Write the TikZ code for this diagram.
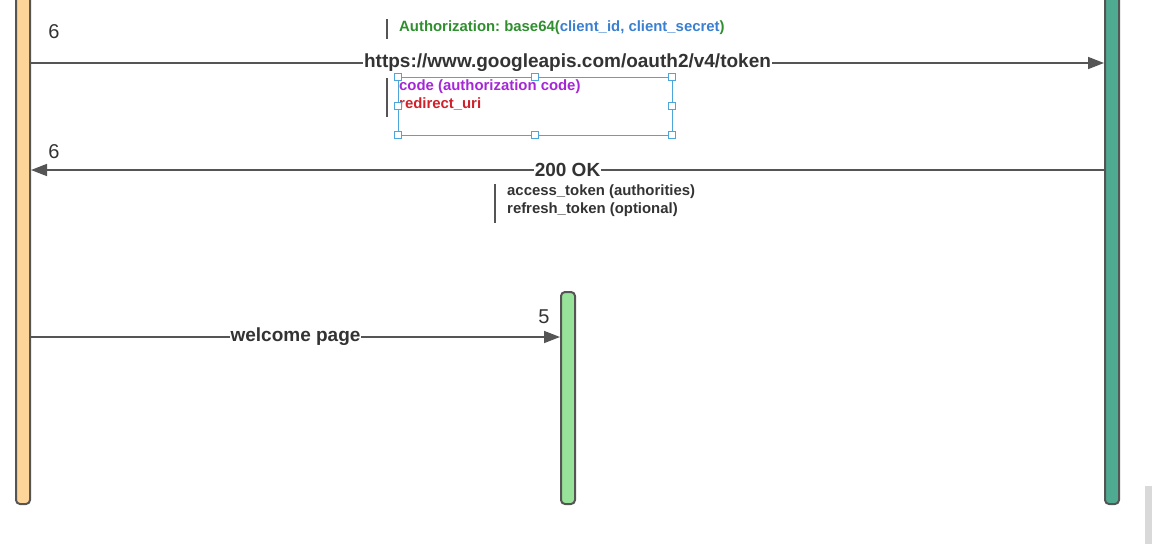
\documentclass[tikz,border=0pt]{standalone}
\usepackage{fontspec}
\setmainfont{Liberation Sans}
\usetikzlibrary{arrows.meta}
\frenchspacing
\definecolor{lineg}{HTML}{555555}
\definecolor{txt}{HTML}{333333}
\definecolor{orangefill}{HTML}{FDD598}
\definecolor{greenfill}{HTML}{98E39A}
\definecolor{tealfill}{HTML}{4FAA92}
\definecolor{authgreen}{HTML}{2F8F2F}
\definecolor{authblue}{HTML}{3A7FD0}
\definecolor{codepurple}{HTML}{A526D6}
\definecolor{redir}{HTML}{D0202A}
\definecolor{selblue}{HTML}{4DA6DA}
\begin{document}
\begin{tikzpicture}[x=1pt,y=-1pt,
  lifeline/.style={draw=lineg,line width=2pt,rounded corners=4pt,minimum width=14pt,inner sep=0pt,anchor=north},
  msg/.style={draw=lineg,line width=1.6pt,-{Triangle[length=16pt,width=12pt]}},
  msglabel/.style={fill=white,text=txt,font=\bfseries\fontsize{19}{21}\selectfont,inner sep=1pt},
  seqnum/.style={text=txt,font=\fontsize{20}{22}\selectfont,inner sep=0pt},
  notebar/.style={draw=lineg,line width=2.5pt},
  notetext/.style={font=\bfseries\fontsize{14.9}{18}\selectfont\frenchspacing,inner sep=0pt,anchor=west},
  handle/.style={draw=selblue,fill=white,line width=0.8pt,minimum size=7pt,inner sep=0pt}]
\useasboundingbox (0,0) rectangle (1152,544);
\clip (0,0) rectangle (1152,544);
% lifelines
\node[lifeline,fill=orangefill,minimum height=523pt] (L) at (23,-20) {};
\node[lifeline,fill=greenfill,minimum height=212pt] (M) at (568,291) {};
\node[lifeline,fill=tealfill,minimum height=523pt] (R) at (1112,-20) {};
% coordinates for message rows
\coordinate (y1) at (0,63);
\coordinate (y2) at (0,170);
\coordinate (y3) at (0,337);
% messages
\draw[msg] (L.east |- y1) -- node[msglabel] (m1) {https://www.googleapis.com/oauth2/v4/token} (R.west |- y1);
\draw[msg] (R.west |- y2) -- node[msglabel] (m2) {200 OK} (L.east |- y2);
\draw[msg] (L.east |- y3) -- node[msglabel] (m3) {welcome page} (M.west |- y3);
% sequence numbers
\node[seqnum] (n1) at (54,32) {6};
\node[seqnum] (n2) at (54,152) {6};
\node[seqnum] (n3) at (544,317) {5};
% note: authorization header
\draw[notebar] (387,19) -- (387,39);
\node[notetext] (auth) at (399,28) {\textcolor{authgreen}{Authorization: base64(}\textcolor{authblue}{client\_id, client\_secret}\textcolor{authgreen}{)}};
% note: body params
\draw[notebar] (387,78) -- (387,117);
\node[notetext,text=codepurple] (code) at (399,87) {code (authorization code)};
\node[notetext,text=redir] (redir) at (399,104) {redirect\_uri};
% selection box
\draw[selblue,line width=0.8pt] (398,77) rectangle (672,135);
\foreach \hx/\hy in {398/77,535/77,672/77,398/106,672/106,398/135,535/135,672/135}
  \node[handle] at (\hx,\hy) {};
% note: response
\draw[notebar] (495,184) -- (495,223);
\node[notetext,text=txt] (acc) at (507,192) {access\_token (authorities)};
\node[notetext,text=txt] (ref) at (507,210) {refresh\_token (optional)};
% gray strip
\fill[black!15] (1145,486) rectangle (1152,544);
\end{tikzpicture}
\end{document}
